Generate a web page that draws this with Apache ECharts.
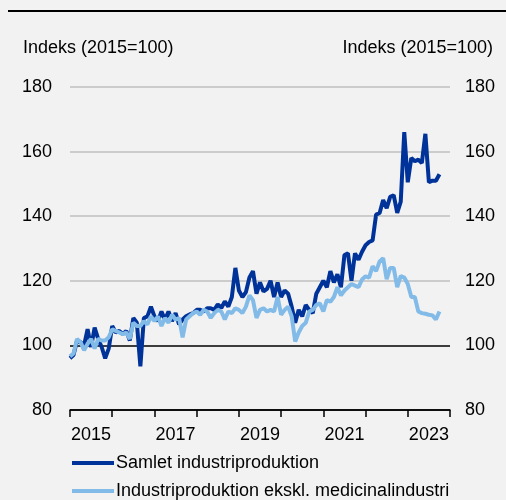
<!DOCTYPE html>
<html><head><meta charset="utf-8">
<script src="https://cdn.jsdelivr.net/npm/echarts@6/dist/echarts.min.js"></script>
<style>html,body{margin:0;padding:0;background:#f2f2f2;}#c{width:506px;height:500px;}</style>
</head><body><div id="c"></div>
<script>
const FONT = '"Liberation Sans", Arial, sans-serif';
const DARK = '#003399';
const LIGHT = '#82bbe8';

// Monthly categories Jan 2015 .. Jan 2024
const startYear = 2015, endYear = 2024;
const months = [];
for (let y = startYear; y <= endYear; y++) {
  for (let m = 1; m <= 12; m++) {
    if (y === endYear && m > 1) break;
    months.push(y + '-' + String(m).padStart(2, '0'));
  }
}
const yearLabels = ['2015', '2017', '2019', '2021', '2023'];
const seriesNames = ['Samlet industriproduktion', 'Industriproduktion ekskl. medicinalindustri'];

const samlet = [
  96, 97, 101.5, 101, 100, 105, 99.5, 105.5, 102, 99.5, 96, 99,
  106, 104, 104.5, 103.5, 104.5, 101.5, 108.5, 107, 93.5, 108.5, 109, 112,
  109, 107.5, 110.5, 108, 110.5, 107.5, 110, 106.5, 108, 109, 109.6, 110,
  111, 111, 110.5, 111.5, 111.5, 111, 112.7, 111.6, 113.6, 112, 115, 124,
  117, 115, 116.5, 121, 123, 116, 119.5, 116.7, 117.5, 120, 115, 119.5,
  115, 117, 116, 112, 107, 111, 109, 112.5, 111, 110, 116, 118,
  120, 118, 123, 119.5, 122, 118, 128, 128.5, 120, 128.5, 126.5, 129,
  131, 132, 132.5, 140.5, 141, 145, 142.5, 146, 146.5, 141, 144.5, 166,
  150.5, 158, 157, 157.5, 156.5, 165.5, 150.5, 151, 151, 153
];
const ekskl = [
  96.6, 97.5, 102, 101, 98.5, 100.5, 102, 99, 102, 101.5, 101.5, 102.5,
  105, 104.5, 104, 103.5, 104, 102, 107, 106, 106, 107.5, 106.5, 109,
  107.5, 109, 106, 108.5, 107, 109.5, 108, 108.5, 102.5, 108, 109, 110,
  110.5, 109.5, 111, 110.5, 108.5, 110, 111, 110.5, 108, 110.5, 110, 111.5,
  111, 110, 112, 115.5, 114, 108.5, 111, 111.5, 110.5, 111, 110.5, 115,
  109.5, 111, 112, 109, 101.2, 104, 106, 107, 110.5, 111, 112.5, 113,
  110.5, 114, 113.5, 115, 118, 115.5, 117, 118, 119, 118.5, 118, 120.4,
  121.4, 121, 124.5, 123, 126, 127, 120.5, 124, 124, 118, 121.5, 121,
  119, 115, 115, 110.5, 110, 109.8, 109.5, 109.3, 108, 110.5
];

const legendBase = {
  left: 67, itemWidth: 42, itemHeight: 4, icon: 'rect',
  textStyle: { fontSize: 18, color: '#000', fontFamily: FONT, padding: [0, 0, 0, -3] }
};

const chart = echarts.init(document.getElementById('c'));
chart.setOption({
  backgroundColor: '#f2f2f2',
  animation: false,
  textStyle: { fontFamily: FONT },
  grid: { left: 70, right: 56, top: 87, bottom: 90 },
  xAxis: {
    type: 'category', data: months, boundaryGap: false,
    axisLine: { lineStyle: { color: '#000', width: 1.5 } },
    axisTick: { interval: (i) => i % 12 === 0, length: 7, lineStyle: { color: '#000', width: 1.5 } },
    axisLabel: {
      interval: (i, v) => v.slice(5) === '07' && yearLabels.includes(v.slice(0, 4)),
      formatter: (v) => v.slice(0, 4),
      color: '#000', fontSize: 18, fontFamily: FONT, margin: 16
    },
    splitLine: { show: false }
  },
  yAxis: [
    {
      type: 'value', min: 80, max: 180, interval: 20, position: 'left',
      axisLine: { show: false }, axisTick: { show: false },
      axisLabel: { color: '#000', fontSize: 18, fontFamily: FONT, margin: 18 },
      splitLine: { lineStyle: { color: ['#000', '#000', '#bfbfbf', '#bfbfbf', '#bfbfbf', '#bfbfbf'], width: 1.5 } }
    },
    {
      type: 'value', min: 80, max: 180, interval: 20, position: 'right',
      axisLine: { show: false }, axisTick: { show: false },
      axisLabel: { color: '#000', fontSize: 18, fontFamily: FONT, margin: 15 },
      splitLine: { show: false }
    }
  ],
  legend: [
    Object.assign({}, legendBase, { top: 449, data: [seriesNames[0]] }),
    Object.assign({}, legendBase, { top: 477, data: [seriesNames[1]] })
  ],
  graphic: [
    { type: 'rect', shape: { x: 8, y: 10, width: 498, height: 2 }, style: { fill: '#000' } },
    { type: 'text', left: 23, top: 39, style: { text: 'Indeks (2015=100)', fontSize: 18, fontFamily: FONT, fill: '#000' } },
    { type: 'text', right: 13, top: 39, style: { text: 'Indeks (2015=100)', fontSize: 18, fontFamily: FONT, fill: '#000' } }
  ],
  series: [
    { name: seriesNames[0], type: 'line', data: samlet, symbol: 'none', showSymbol: false,
      lineStyle: { width: 4, color: DARK }, itemStyle: { color: DARK }, z: 3 },
    { name: seriesNames[1], type: 'line', data: ekskl, symbol: 'none', showSymbol: false,
      lineStyle: { width: 4, color: LIGHT }, itemStyle: { color: LIGHT }, z: 4 }
  ]
});
</script></body></html>
